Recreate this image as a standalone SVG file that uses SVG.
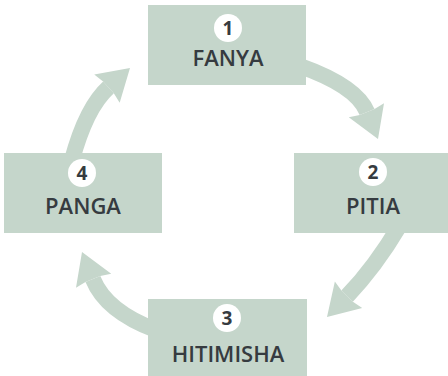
<svg xmlns="http://www.w3.org/2000/svg" width="448" height="376" viewBox="0 0 448 376">
<defs>
<style>
.box{fill:#c5d6cb}
.shaft{fill:none;stroke:#c5d6cb;stroke-width:16}
.head{fill:#c5d6cb}
.dot{fill:#ffffff}
.num{font-family:"Open Sans","Liberation Sans",sans-serif;font-weight:700;font-size:19px;fill:#363b40;text-anchor:middle}
.lbl{font-family:"Open Sans","Liberation Sans",sans-serif;font-weight:600;font-size:22px;fill:#363b40;text-anchor:middle}
</style>
<polygon id="ah" points="0,0 -31,19 -29,8 -29,-8 -31,-19"/>
</defs>
<rect width="448" height="376" fill="#ffffff"/>
<g id="connectors">
<path class="shaft" d="M300 66 Q356.6 86.1 367.1 112.1"/>
<use href="#ah" class="head" transform="translate(378 139) rotate(68)"/>
<path class="shaft" d="M400 225 Q374.9 267.3 347.1 296.1"/>
<use href="#ah" class="head" transform="translate(327 317) rotate(134)"/>
<path class="shaft" d="M156 330 Q106 311.3 92.9 278.9"/>
<use href="#ah" class="head" transform="translate(82 252) rotate(248)"/>
<path class="shaft" d="M72 160 Q86.2 107.5 108.5 87.4"/>
<use href="#ah" class="head" transform="translate(130 68) rotate(-42)"/>
</g>
<g id="node1">
<rect class="box" x="148" y="5" width="158" height="80"/>
<circle class="dot" cx="228" cy="28" r="14"/>
<text class="num" x="228" y="35">1</text>
<text class="lbl" x="228" y="66">FANYA</text>
</g>
<g id="node2">
<rect class="box" x="294" y="153" width="158" height="80"/>
<circle class="dot" cx="373" cy="172" r="14"/>
<text class="num" x="373" y="179">2</text>
<text class="lbl" x="373" y="214">PITIA</text>
</g>
<g id="node3">
<rect class="box" x="148" y="299" width="159" height="80"/>
<circle class="dot" cx="227" cy="318" r="14"/>
<text class="num" x="227" y="325">3</text>
<text class="lbl" x="228" y="362">HITIMISHA</text>
</g>
<g id="node4">
<rect class="box" x="4" y="153" width="158" height="80"/>
<circle class="dot" cx="82" cy="173" r="14"/>
<text class="num" x="82" y="180">4</text>
<text class="lbl" x="83" y="214">PANGA</text>
</g>
</svg>
